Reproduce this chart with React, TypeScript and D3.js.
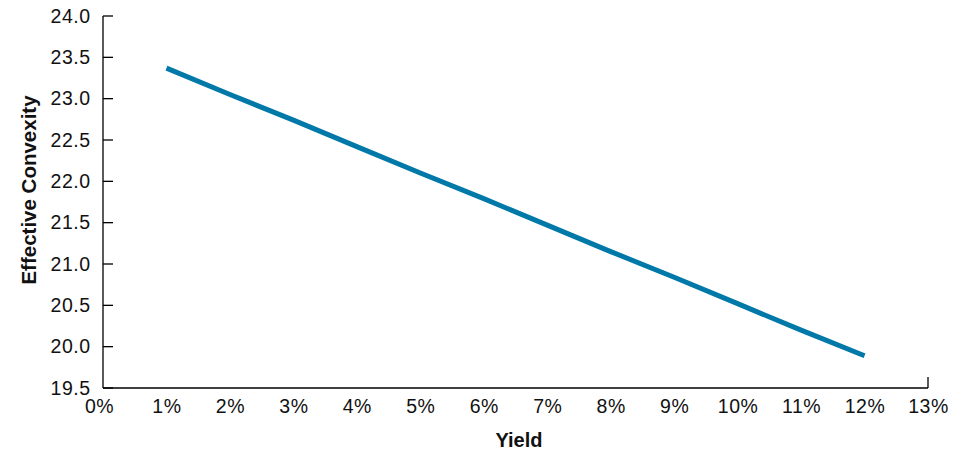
import React from "react";
import * as d3 from "d3";

const yields = [1, 2, 3, 4, 5, 6, 7, 8, 9, 10, 11, 12];
const convexity = [23.37, 23.05, 22.74, 22.42, 22.1, 21.79, 21.47, 21.15, 20.84, 20.52, 20.2, 19.89];
const xTicks = [0, 1, 2, 3, 4, 5, 6, 7, 8, 9, 10, 11, 12, 13];
const yTicks = [19.5, 20.0, 20.5, 21.0, 21.5, 22.0, 22.5, 23.0, 23.5, 24.0];

const W = 960;
const H = 453;
const FONT = "'Liberation Sans', Arial, Helvetica, sans-serif";

export default function App() {
  const x = d3.scaleLinear().domain([0, 13]).range([103, 928]);
  const y = d3.scaleLinear().domain([19.5, 24]).range([388, 16]);
  const data = yields.map((v, i) => [v, convexity[i]] as [number, number]);
  const line = d3
    .line<[number, number]>()
    .x((d) => x(d[0]))
    .y((d) => y(d[1]));

  const tickStyle = { fontSize: "19.5px", letterSpacing: "0.5px" };

  return (
    <svg
      width={W}
      height={H}
      style={{ position: "absolute", left: 0, top: 0, background: "#fff" }}
      fontFamily={FONT}
    >
      {/* y axis */}
      <line x1={x(0)} x2={x(0)} y1={y(24)} y2={y(19.5)} stroke="#000" strokeWidth={1.3} />
      {yTicks.map((t) => (
        <g key={t}>
          <line x1={x(0)} x2={x(0) + 10} y1={y(t)} y2={y(t)} stroke="#000" strokeWidth={1.3} />
          <text x={90.5} y={y(t)} dy="0.35em" textAnchor="end" style={tickStyle} fill="#111">
            {t.toFixed(1)}
          </text>
        </g>
      ))}
      {/* x axis */}
      <line x1={x(0)} x2={x(13)} y1={y(19.5)} y2={y(19.5)} stroke="#000" strokeWidth={1.3} />
      <line x1={x(13)} x2={x(13)} y1={y(19.5)} y2={y(19.5) - 11} stroke="#000" strokeWidth={1.3} />
      {xTicks.map((t) => (
        <text
          key={t}
          x={x(t) + (t === 0 ? -4 : 0) + 0.5}
          y={413}
          textAnchor="middle"
          style={tickStyle}
          fill="#111"
        >
          {t}%
        </text>
      ))}
      {/* data line */}
      <path d={line(data) || ""} fill="none" stroke="#0078A8" strokeWidth={5} strokeLinecap="butt" />
      {/* axis titles */}
      <text x={519} y={447} textAnchor="middle" style={{ fontSize: "20px", fontWeight: "bold" }} fill="#111">
        Yield
      </text>
      <text
        transform={`translate(36,190) rotate(-90)`}
        textAnchor="middle"
        style={{ fontSize: "20.5px", fontWeight: "bold" }}
        fill="#111"
      >
        Effective Convexity
      </text>
    </svg>
  );
}
